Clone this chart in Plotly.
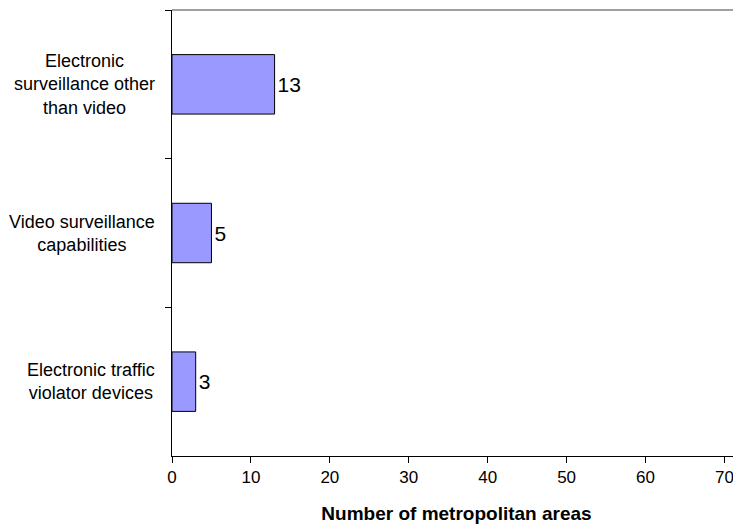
import plotly.graph_objects as go

categories = [
    "Electronic<br>surveillance other<br>than video",
    "Video surveillance<br>capabilities",
    "Electronic traffic<br>violator devices",
]
values = [13, 5, 3]

font_family = "Arial, Liberation Sans, sans-serif"

# the page body has an 8px margin, so the figure is sized to fill what is left
fig = go.Figure(layout={'width': 733, 'height': 517})
fig.add_trace(
    go.Bar(
        x=values,
        y=categories,
        orientation='h',
        width=0.4,
        marker=dict(color='#9999ff', line=dict(color='black', width=1)),
        text=[str(v) for v in values],
        textposition='outside',
        textfont=dict(size=21, color='black', family=font_family),
        cliponaxis=False,
        hoverinfo='x+y',
    )
)

# category labels, centred lines with the right edge fixed next to the axis
for cat in categories:
    fig.add_annotation(
        x=-0.026, xref='paper', xanchor='right',
        y=cat, yref='y', yanchor='middle',
        text=cat, showarrow=False, align='center',
        font=dict(size=18, color='black', family=font_family),
    )

# grey border along the top of the plot area
fig.add_shape(type='line', xref='paper', yref='paper', x0=0, x1=1, y0=1, y1=1,
              line=dict(color='#a0a0a0', width=2))

fig.update_layout(
    showlegend=False,
    plot_bgcolor='white',
    paper_bgcolor='white',
    margin=dict(l=164, r=0, t=2, b=69, autoexpand=False),
    font=dict(family=font_family, color='black'),
    xaxis=dict(
        range=[0, 72.1],
        tickvals=[0, 10, 20, 30, 40, 50, 60, 70],
        ticks='outside', ticklen=6, tickcolor='black',
        showline=True, linecolor='black', linewidth=1,
        showgrid=False, zeroline=False,
        automargin=False,
        tickfont=dict(size=17),
        title=dict(text='<b>Number of metropolitan areas</b>', font=dict(size=19), standoff=20),
    ),
    yaxis=dict(
        type='category',
        range=[2.5, -0.5],
        tickson='boundaries',
        ticks='outside', ticklen=6, tickcolor='black',
        showticklabels=False,
        showline=True, linecolor='black', linewidth=1,
        showgrid=False, zeroline=False,
        automargin=False,
    ),
)

fig.write_html("out.html")
